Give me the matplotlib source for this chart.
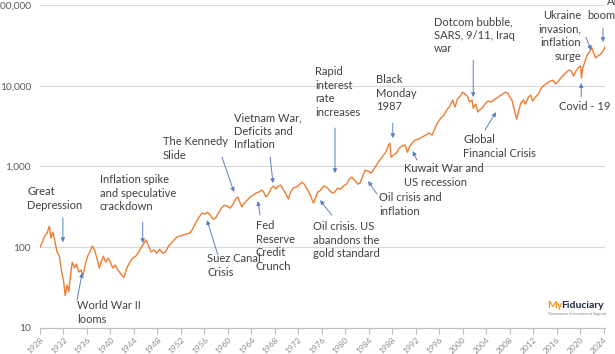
import numpy as np
import matplotlib.pyplot as plt
from matplotlib.ticker import FuncFormatter, NullLocator, FixedLocator

# index level (log scale)
years = [
    1928.0, 1928.4, 1928.8, 1929.2, 1929.6, 1929.85, 1930.2, 1930.5, 1930.9, 1931.3,
    1931.7, 1932.0, 1932.3, 1932.6, 1932.9, 1933.2, 1933.5, 1933.9, 1934.2, 1934.6,
    1935.0, 1935.3, 1935.7, 1936.1, 1936.5, 1936.9, 1937.3, 1937.7, 1938.1, 1938.4,
    1938.8, 1939.2, 1939.6, 1940.0, 1940.4, 1940.8, 1941.3, 1941.8, 1942.3, 1942.8,
    1943.3, 1943.8, 1944.3, 1944.8, 1945.3, 1945.8, 1946.1, 1946.5, 1946.9, 1947.4,
    1947.9, 1948.4, 1948.9, 1949.4, 1949.9, 1950.4, 1950.8, 1951.3, 1951.8, 1952.4,
    1952.9, 1953.5, 1954.0, 1954.5, 1955.0, 1955.6, 1956.1, 1956.5, 1957.0, 1957.5,
    1957.9, 1958.4, 1958.9, 1959.4, 1959.9, 1960.4, 1960.9, 1961.3, 1961.7, 1962.1,
    1962.4, 1962.8, 1963.3, 1963.8, 1964.3, 1964.8, 1965.3, 1965.8, 1966.1, 1966.5,
    1966.9, 1967.4, 1967.8, 1968.2, 1968.6, 1969.0, 1969.5, 1969.9, 1970.3, 1970.7,
    1971.1, 1971.6, 1972.1, 1972.6, 1973.0, 1973.5, 1973.9, 1974.3, 1974.6, 1974.9,
    1975.3, 1975.8, 1976.3, 1976.8, 1977.3, 1977.8, 1978.2, 1978.7, 1979.2, 1979.7,
    1980.2, 1980.7, 1981.1, 1981.6, 1982.1, 1982.5, 1982.9, 1983.4, 1983.9, 1984.4,
    1984.9, 1985.4, 1985.9, 1986.4, 1986.9, 1987.3, 1987.6, 1987.8, 1988.2, 1988.7,
    1989.2, 1989.7, 1990.2, 1990.6, 1990.9, 1991.4, 1991.9, 1992.5, 1993.1, 1993.7,
    1994.3, 1994.8, 1995.3, 1995.8, 1996.3, 1996.8, 1997.3, 1997.8, 1998.3, 1998.7,
    1999.1, 1999.6, 2000.0, 2000.4, 2000.8, 2001.2, 2001.6, 2001.8, 2002.2, 2002.6,
    2002.9, 2003.3, 2003.8, 2004.3, 2004.8, 2005.3, 2005.8, 2006.3, 2006.8, 2007.3,
    2007.7, 2008.0, 2008.4, 2008.8, 2009.2, 2009.5, 2009.9, 2010.4, 2010.7, 2011.2,
    2011.6, 2011.9, 2012.4, 2012.9, 2013.4, 2013.9, 2014.4, 2014.9, 2015.4, 2015.8,
    2016.2, 2016.7, 2017.2, 2017.7, 2018.1, 2018.5, 2018.9, 2019.3, 2019.8, 2020.1,
    2020.25, 2020.45, 2020.8, 2021.2, 2021.6, 2021.95, 2022.3, 2022.7, 2023.0, 2023.5,
    2023.9, 2024.3,
]
index_level = [
    100, 115, 137, 149, 182, 129, 153, 122, 87, 77,
    49, 39, 25, 34, 28, 45, 65, 55, 62, 49,
    52, 44, 60, 77, 87, 103, 92, 73, 55, 65,
    77, 65, 73, 65, 55, 60, 52, 46, 42, 55,
    65, 73, 77, 87, 100, 115, 122, 103, 87, 92,
    84, 94, 84, 87, 103, 112, 122, 133, 137, 141,
    145, 149, 167, 198, 229, 264, 256, 271, 249, 222,
    229, 264, 304, 331, 322, 304, 341, 393, 417, 351,
    313, 351, 382, 417, 441, 467, 481, 508, 481, 417,
    454, 538, 570, 523, 570, 586, 508, 454, 393, 481,
    538, 554, 586, 638, 603, 523, 467, 393, 351, 405,
    481, 508, 570, 554, 508, 467, 481, 538, 523, 570,
    603, 696, 737, 676, 603, 621, 737, 899, 874, 826,
    926, 1070, 1200, 1340, 1500, 1790, 1950, 1300, 1380, 1460,
    1690, 1790, 1840, 1500, 1730, 1950, 2120, 2180, 2310, 2440,
    2590, 2440, 2990, 3540, 3970, 4320, 4990, 5590, 6630, 5430,
    6820, 7440, 8330, 7870, 7440, 6270, 6630, 5270, 5910, 4710,
    4990, 5270, 5910, 6440, 6270, 6630, 7020, 7440, 7870, 8330,
    8090, 7230, 6630, 4990, 3850, 4710, 6080, 6630, 5910, 7230,
    7650, 6440, 7230, 7870, 9330, 10200, 10800, 11400, 11700, 10500,
    11100, 12400, 13500, 14700, 15600, 15200, 13200, 15200, 17000, 17500,
    12400, 16500, 19600, 23900, 26100, 30100, 25300, 22000, 23300, 24600,
    26800, 31000,
]

tick_years = list(range(1928, 2025, 4))
y_ticks = [10, 100, 1000, 10000, 100000]

# (label, text x px, text top px, align, arrow tail (year, level), arrow head (year, level))
events = [
    ("Great\nDepression", 27, 186, "left", (1931.9, 229), (1931.9, 115)),
    ("Inflation spike\nand speculative\ncrackdown", 100, 174, "left", (1945.5, 204), (1945.5, 112)),
    ("World War II\nlooms", 77, 300, "left", (1934.3, 22), (1935.2, 48)),
    ("The Kennedy\nSlide", 163, 136, "left", (1959.0, 1300), (1961.05, 481)),
    ("Vietnam War,\nDeficits and\nInflation", 234, 112, "left", (1967.2, 1300), (1967.7, 621)),
    ("Rapid\ninterest\nrate\nincreases", 315, 66, "left", (1978.25, 2990), (1978.25, 826)),
    ("Black\nMonday\n1987", 376, 74, "left", (1988.1, 3440), (1988.1, 2240)),
    ("Dotcom bubble,\nSARS, 9/11, Iraq\nwar", 434, 16, "left", (2001.8, 20700), (2001.8, 7230)),
    ("Global\nFinancial Crisis", 463, 134, "left", (2003.8, 2820), (2005.7, 4710)),
    ("Kuwait War and\nUS recession", 404, 163, "left", (1992.2, 1200), (1991.5, 1550)),
    ("Oil crisis and\ninflation", 379, 192, "left", (1985.4, 454), (1983.9, 658)),
    ("Fed\nReserve\nCredit\nCrunch", 256, 220, "left", (1965.5, 249), (1965.1, 372)),
    ("Suez Canal\nCrisis", 207, 253, "left", (1958.3, 80), (1956.45, 216)),
    ("Oil crisis. US\nabandons the\ngold standard", 313, 221, "left", (1977.7, 249), (1975.7, 382)),
    ("Ukraine\ninvasion,\ninflation\nsurge", 581, 10, "right", (2021.0, 40000), (2021.9, 27600)),
    ("boom", 587, 10, "left", (2023.9, 51800), (2023.9, 34700)),
    ("Covid - 19", 559, 101, "left", (2020.2, 7230), (2020.2, 10800)),
]

W, H = 615, 354
font = "Lato"
fig = plt.figure(figsize=(W / 100, H / 100), dpi=100)
ax = fig.add_axes([40 / W, 1 - 327.8 / H, 565 / W, 322.8 / H])

ax.plot(years, index_level, color="#ED7D31", lw=1.0)
ax.set_yscale("log")
ax.set_ylim(10, 100000)
ax.set_xlim(1928, 2024.25)

ax.yaxis.set_major_locator(FixedLocator(y_ticks))
ax.yaxis.set_minor_locator(NullLocator())
ax.yaxis.set_major_formatter(FuncFormatter(lambda v, p: f"{v:,.0f}"))
ax.set_xticks(tick_years)
ax.set_xticklabels([str(y) for y in tick_years], rotation=45, ha="right",
                   rotation_mode="anchor", fontsize=6, color="#8c8c8c", family=font)
for lab in ax.get_yticklabels():
    lab.set_family(font)
ax.tick_params(axis="y", length=0, labelsize=7.3, labelcolor="#595959", pad=6.5)
ax.tick_params(axis="x", length=4, color="#bfbfbf", pad=2)
ax.grid(axis="y", color="#d9d9d9", lw=0.8)
ax.set_axisbelow(True)
for s in ["left", "right", "top"]:
    ax.spines[s].set_visible(False)
ax.spines["bottom"].set_color("#bfbfbf")

for label, tx, ty, align, tail, head in events:
    fig.text(tx / W, 1 - ty / H, label, ha=align, va="top", fontsize=8.0,
             color="#404040", family=font, linespacing=1.3)
    ax.annotate("", xy=head, xytext=tail,
                arrowprops=dict(arrowstyle="-|>", color="#5B80C4", lw=0.7,
                                mutation_scale=6, shrinkA=0, shrinkB=0))
fig.text(607 / W, 1 + 4 / H, "AI", ha="left", va="top", fontsize=8.0,
         color="#404040", family=font)

# logo
fig.text(562 / W, 1 - 306 / H, "My", ha="right", va="center", fontsize=7.5,
         color="#F29222", family=font, weight="bold")
fig.text(561 / W, 1 - 306 / H, "Fiduciary", ha="left", va="center", fontsize=7.5,
         color="#1F2A44", family=font, weight="bold")
fig.text(607 / W, 1 - 314 / H, "Governance & Investment Support", ha="right",
         va="center", fontsize=2.8, color="#7f7f7f", family=font)

fig.savefig("out.png", dpi=100)
